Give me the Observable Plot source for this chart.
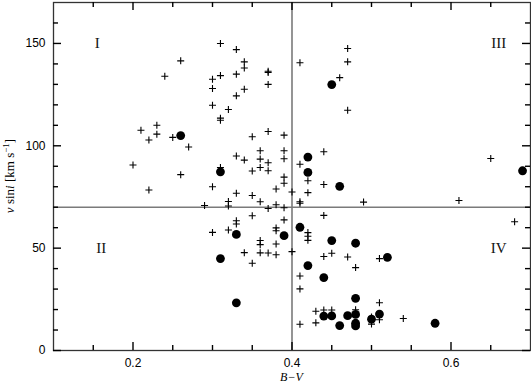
<!DOCTYPE html>
<html><head><meta charset="utf-8">
<script src="https://cdn.jsdelivr.net/npm/d3@7"></script>
<script src="https://cdn.jsdelivr.net/npm/@observablehq/plot@0.6"></script>
<style>
html,body{margin:0;padding:0;background:#fff;}
</style></head><body><div id="chart"></div>
<script>
// Plus markers: B-V colour and v sin i (km/s)
const plusBV = [
  0.31,0.33,0.34,0.34,0.26,0.24,0.31,0.30,0.33,0.37,0.37,0.37,0.34,0.30,0.33,0.30,0.32,0.31,0.31,
  0.21,0.23,0.23,0.22,0.25,0.27,0.20,0.26,0.31,0.35,0.37,0.39,0.36,0.39,0.33,0.34,0.36,0.39,0.37,
  0.36,0.37,0.35,0.39,0.39,0.22,0.30,0.33,0.35,0.38,0.40,0.36,0.32,0.32,0.29,0.38,0.37,0.39,
  0.41,0.41,0.47,0.47,0.46,0.47,0.44,0.42,0.44,0.42,0.41,0.41,0.49,0.61,0.65,
  0.35,0.33,0.33,0.39,0.30,0.32,0.38,0.38,0.36,0.36,0.38,0.34,0.36,0.37,0.38,0.40,0.35,
  0.68,0.44,0.42,0.42,0.42,0.45,0.44,0.47,0.51,0.48,0.41,0.41,0.51,0.43,0.44,0.45,0.48,
  0.51,0.50,0.50,0.54,0.43,0.41
];
const plusVsini = [
  150,147,141,138,141.5,134,134.3,132.5,135,136.4,135.8,130,127.6,128,124.4,119.8,117.7,113.5,112.5,
  107.6,110,105.7,102.8,104.1,99.4,90.6,85.9,89.4,104.4,107,105.2,97.6,97.6,95,93,93.5,93.7,91.7,
  89.4,87.8,87.7,84.7,81.7,78.4,80,76.8,75.7,78.9,77.4,72.7,72.8,70.6,70.8,71.2,69.4,69.7,
  140.6,91,147.5,141,133.3,117.4,97.1,82.9,81.1,77.1,72.7,71.9,72.5,73.3,93.8,
  65.8,63.4,61.8,63.8,57.7,58.9,59.9,58.5,53.7,51.7,52,47.8,47.7,47.6,46.8,48.3,42.6,
  62.9,66,57.6,55.8,53.8,47.5,45.9,45.7,44.9,40.5,36.4,30.1,23.3,19.2,19.8,19.8,19.9,
  15,16.4,12.9,15.6,13.5,12.8
];
// Filled circles: B-V colour and v sin i (km/s)
const dotBV = [
  0.26,0.31,0.45,0.42,0.42,0.46,0.69,0.33,0.39,0.41,0.31,0.33,0.45,0.48,0.52,0.42,0.44,0.48,
  0.44,0.45,0.47,0.48,0.51,0.50,0.48,0.48,0.46,0.58
];
const dotVsini = [
  105,87.3,129.9,94.5,87,80.2,87.8,56.7,56.1,60.2,44.9,23.3,53.7,52.4,45.5,41.5,35.6,25.5,
  16.8,16.9,17,17.6,17.8,15.3,13.3,12,12.2,13.3
];
// Dividing lines
const splitBV = [0.4];
const splitVsini = [70];
// Quadrant labels
const quadText = ["I", "II", "III", "IV"];
const quadBV = [0.155, 0.16, 0.66, 0.66];
const quadVsini = [150, 50, 150, 50];
// Ticks
const xLabelTicks = [0.2, 0.4, 0.6];
const xMajorTicks = [0.2, 0.4, 0.6];
const xMinorTicks = [0.15, 0.25, 0.3, 0.35, 0.45, 0.5, 0.55, 0.65];
const yMajorTicks = [0, 50, 100, 150];
const yMinorTicks = [10, 20, 30, 40, 60, 70, 80, 90, 110, 120, 130, 140, 160];
const xDomain = [0.1, 0.7];
const yDomain = [0, 170];

const plusData = plusBV.map((x, i) => ({x, y: plusVsini[i]}));
const dotData = dotBV.map((x, i) => ({x, y: dotVsini[i]}));
const quadData = quadText.map((t, i) => ({t, x: quadBV[i], y: quadVsini[i]}));

const plusSymbol = {
  draw(ctx, size) {
    const r = Math.sqrt(size / Math.PI);
    ctx.moveTo(-r, 0); ctx.lineTo(r, 0);
    ctx.moveTo(0, -r); ctx.lineTo(0, r);
  }
};

const W = 531, H = 384, mL = 53, mR = 1, mT = 2, mB = 34;
const plotW = W - mL - mR, plotH = H - mT - mB;

const sans = "Liberation Sans, Arial, sans-serif";
const serif = "Liberation Serif, Times New Roman, serif";
const tickColor = "#000";

// inward ticks, drawn as rules inset from the opposite side of the frame
function xTicks(values, side, len) {
  const opts = {stroke: tickColor, strokeWidth: 1.4};
  if (side === "bottom") opts.insetTop = plotH - len; else opts.insetBottom = plotH - len;
  return Plot.ruleX(values, opts);
}
function yTicks(values, side, len) {
  const opts = {stroke: tickColor, strokeWidth: 1.4};
  if (side === "left") opts.insetRight = plotW - len; else opts.insetLeft = plotW - len;
  return Plot.ruleY(values, opts);
}

const plot = Plot.plot({
  width: W,
  height: H,
  marginLeft: mL,
  marginRight: mR,
  marginTop: mT,
  marginBottom: mB,
  style: {fontFamily: sans, fontSize: "12px", background: "#fff"},
  x: {domain: xDomain, label: null, axis: null},
  y: {domain: yDomain, label: null, axis: null},
  marks: [
    Plot.ruleX(splitBV, {stroke: "#7a7a7a", strokeWidth: 1.6}),
    Plot.ruleY(splitVsini, {stroke: "#7a7a7a", strokeWidth: 1.6}),
    // tick labels
    Plot.axisX({anchor: "bottom", ticks: xLabelTicks, tickSize: 0, tickPadding: 8, tickFormat: d => d.toFixed(1), label: null, fill: "#000"}),
    Plot.axisY({anchor: "left", ticks: yMajorTicks, tickSize: 0, tickPadding: 8, tickFormat: d => String(d), label: null, fill: "#000"}),
    Plot.frame({stroke: "#333", strokeWidth: 1.3}),
    Plot.text(quadData, {x: "x", y: "y", text: "t", fontFamily: serif, fontSize: 15, fill: "#111"}),
    Plot.dot(plusData, {x: "x", y: "y", symbol: plusSymbol, r: 3.5, stroke: "#000", strokeWidth: 1.1, fill: "none"}),
    Plot.dot(dotData, {x: "x", y: "y", r: 4.4, fill: "#000", stroke: "none"}),
    // inward ticks on all four sides
    xTicks(xMajorTicks, "bottom", 8),
    xTicks(xMinorTicks, "bottom", 5),
    xTicks(xMajorTicks, "top", 8),
    xTicks(xMinorTicks, "top", 5),
    yTicks(yMajorTicks, "left", 8),
    yTicks(yMinorTicks, "left", 5),
    yTicks(yMajorTicks, "right", 8),
    yTicks(yMinorTicks, "right", 5)
  ]
});

const svg = d3.select(plot);
// Y axis title
const yt = svg.append("text")
  .attr("transform", "translate(14,176) rotate(-90)")
  .attr("text-anchor", "middle")
  .attr("font-family", serif)
  .attr("font-size", 13)
  .attr("fill", "#000");
yt.append("tspan").attr("font-style", "italic").text("v");
yt.append("tspan").text(" sin");
yt.append("tspan").attr("font-style", "italic").text("i");
yt.append("tspan").text(" [km s");
yt.append("tspan").attr("font-size", 9).attr("dy", -5).text("−1");
yt.append("tspan").attr("dy", 5).text("]");
// X axis title
const xs = plot.scale("x");
svg.append("text")
  .attr("x", (xs.range[0] + xs.range[1]) / 2)
  .attr("y", 381)
  .attr("text-anchor", "middle")
  .attr("font-family", serif)
  .attr("font-style", "italic")
  .attr("font-size", 12)
  .attr("fill", "#000")
  .text("B−V");

document.getElementById("chart").appendChild(plot);
</script>
</body></html>
